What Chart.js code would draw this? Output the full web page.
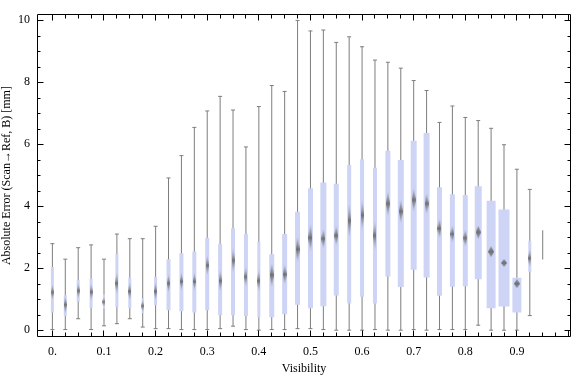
<!DOCTYPE html>
<html>
<head>
<meta charset="utf-8">
<script src="https://cdn.jsdelivr.net/npm/chart.js@4"></script>
<style>
  html, body { margin: 0; padding: 0; background: #fff; }
</style>
</head>
<body>
<canvas id="box-chart-area" width="576" height="377"></canvas>
<script>
// bin centres (visibility)
var visibility = [0, 0.025, 0.05, 0.075, 0.1, 0.125, 0.15, 0.175, 0.2, 0.225,
  0.25, 0.275, 0.3, 0.325, 0.35, 0.375, 0.4, 0.425, 0.45, 0.475,
  0.5, 0.525, 0.55, 0.575, 0.6, 0.625, 0.65, 0.675, 0.7, 0.725,
  0.75, 0.775, 0.8, 0.825, 0.85, 0.875, 0.9, 0.925, 0.95];
var whiskerLow = [0.02, 0.02, 0.37, 0.02, 0.14, 0.21, 0.37, 0.10, 0.05, 0.05,
  0.02, 0.02, 0.02, 0.05, 0.13, 0.02, 0.00, 0.02, 0.02, 0.05,
  0.05, 0.02, 0.00, 0.00, 0.00, 0.02, 0.00, 0.00, 0.02, 0.00,
  0.02, 0.02, 0.02, 0.16, 0.00, 0.00, 0.00, 0.47, 2.28];
var quart1 = [0.57, 0.46, 0.92, 0.72, 0.70, 0.75, 0.71, 0.55, 0.80, 0.64,
  0.61, 0.57, 0.64, 0.48, 0.48, 0.46, 0.42, 0.42, 0.51, 0.82,
  0.71, 0.77, 1.12, 0.86, 1.08, 0.86, 1.73, 1.39, 1.95, 1.70,
  1.11, 1.40, 1.42, 1.64, 0.71, 0.76, 0.57, 1.88, null];
var medians = [1.22, 0.82, 1.27, 1.23, 0.91, 1.51, 1.25, 0.78, 1.25, 1.51,
  1.57, 1.57, 2.09, 1.59, 2.25, 1.72, 1.59, 1.78, 1.80, 2.61,
  2.98, 2.95, 3.05, 3.53, 3.71, 3.05, 4.08, 3.83, 4.20, 4.08,
  3.28, 3.10, 2.97, 3.16, 2.53, 2.17, 1.50, 2.32, null];
var quart3 = [2.04, 1.13, 1.62, 1.66, 1.15, 2.46, 1.69, 1.03, 1.72, 2.29,
  2.48, 2.54, 2.98, 2.79, 3.29, 3.10, 2.85, 2.45, 3.10, 3.82,
  4.58, 4.76, 4.72, 5.33, 5.51, 5.24, 5.79, 5.49, 6.11, 6.36,
  4.61, 4.38, 4.36, 4.64, 4.17, 3.89, 1.69, 2.88, null];
var whiskerHigh = [2.79, 2.29, 2.66, 2.75, 2.29, 3.10, 2.95, 2.95, 3.35, 4.91,
  5.63, 6.54, 7.07, 7.54, 7.10, 5.91, 7.21, 7.89, 7.70, 9.99,
  9.65, 9.68, 9.28, 9.46, 9.14, 8.71, 8.64, 8.45, 8.05, 7.73,
  6.70, 7.23, 6.86, 6.76, 6.51, 5.98, 5.19, 4.54, 3.22];
// half height of the median marker (confidence of the median)
var medianSpread = [0.26, 0.29, 0.26, 0.29, 0.18, 0.37, 0.31, 0.21, 0.31, 0.31,
  0.31, 0.31, 0.34, 0.37, 0.42, 0.34, 0.37, 0.42, 0.34, 0.44,
  0.47, 0.34, 0.34, 0.60, 0.52, 0.50, 0.42, 0.40, 0.40, 0.35,
  0.34, 0.29, 0.29, 0.21, 0.18, 0.13, 0.15, 0.31, null];
var xTickValues = [0, 0.1, 0.2, 0.3, 0.4, 0.5, 0.6, 0.7, 0.8, 0.9];
var yTickValues = [0, 2, 4, 6, 8, 10];

// box widths in px (style)
var boxWidths = [3, 3, 3, 3, 2, 3, 3, 2, 3, 4,
  4, 4, 4, 4, 4, 4, 3, 5, 5, 5,
  5, 6, 5, 4, 4, 4, 5, 6, 6, 6,
  5, 5, 5, 7, 9, 11, 9, 3, 0];

var boxColor = '#cdd4f5';
var whiskerColor = '#7d7d7d';
var serif = '"Liberation Serif", "DejaVu Serif", serif';

document.addEventListener('DOMContentLoaded', function() {
  boxChart();
});

function boxChart() {
  var datasets = [];

  // median markers
  var medianPts = [];
  for (var i = 0; i < visibility.length; i++) {
    if (medians[i] !== null) medianPts.push({x: visibility[i], y: medians[i], i: i});
  }
  datasets.push({
    type: 'scatter',
    order: 0,
    data: medianPts,
    pointStyle: function(ctx) {
      var p = ctx.raw;
      if (!p || p.i === undefined) return 'circle';
      var ys = ctx.chart.scales.y;
      var h = NaN;
      if (ys) h = Math.abs(ys.getPixelForValue(0) - ys.getPixelForValue(medianSpread[p.i])) * 2;
      if (!isFinite(h) || h <= 0) h = medianSpread[p.i] * 31.9 * 2;
      var w = Math.min(6, Math.max(3, boxWidths[p.i] * 0.7));
      return diamond(Math.round(w), Math.max(4, Math.round(h)), boxWidths[p.i] >= 7);
    },
    pointRadius: 3,
    showLine: false
  });

  // boxes, one dataset per width
  var widths = [];
  boxWidths.forEach(function(w) { if (w > 0 && widths.indexOf(w) < 0) widths.push(w); });
  widths.forEach(function(w) {
    var pts = [];
    for (var i = 0; i < visibility.length; i++) {
      if (boxWidths[i] === w && quart1[i] !== null) pts.push({x: visibility[i], y: [quart1[i], quart3[i]]});
    }
    datasets.push({
      type: 'bar',
      order: 1,
      data: pts,
      backgroundColor: boxColor,
      borderWidth: 0,
      inflateAmount: 0,
      barThickness: w,
      maxBarThickness: w,
      grouped: false
    });
  });

  // whiskers
  var whiskerPts = [];
  var capPts = [];
  for (var i = 0; i < visibility.length; i++) {
    whiskerPts.push({x: visibility[i], y: [whiskerLow[i], whiskerHigh[i]]});
    if (quart1[i] !== null) {
      capPts.push({x: visibility[i], y: whiskerLow[i]});
      capPts.push({x: visibility[i], y: whiskerHigh[i]});
    }
  }
  datasets.push({
    type: 'bar',
    order: 2,
    data: whiskerPts,
    backgroundColor: whiskerColor,
    borderWidth: 0,
    inflateAmount: 0,
    barThickness: 1,
    maxBarThickness: 1,
    grouped: false
  });
  datasets.push({
    type: 'scatter',
    order: 2,
    data: capPts,
    pointStyle: 'line',
    pointRadius: 2,
    borderColor: whiskerColor,
    borderWidth: 1,
    showLine: false
  });

  var ctx = document.getElementById('box-chart-area').getContext('2d');
  window.myBox = new Chart(ctx, {
    type: 'bar',
    data: { datasets: datasets },
    plugins: [frameTicks],
    options: {
      responsive: false,
      animation: false,
      layout: { padding: { top: 4, right: 1, left: 0, bottom: 0 } },
      plugins: { legend: { display: false }, tooltip: { enabled: false } },
      scales: {
        x: {
          type: 'linear',
          position: 'bottom',
          offset: false,
          min: -0.029808,
          max: 1.004808,
          grid: { display: false, drawTicks: false },
          border: { display: false },
          afterBuildTicks: function(scale) {
            scale.ticks = xTickValues.map(function(v) { return {value: v}; });
          },
          afterFit: function(scale) { scale.height = 40; },
          ticks: {
            padding: 8,
            color: '#000',
            maxRotation: 0,
            font: { family: serif, size: 12 },
            callback: function(v) { return v === 0 ? '0.' : v.toFixed(1); }
          },
          title: {
            display: true,
            text: 'Visibility',
            color: '#000',
            padding: { top: 0, bottom: 1 },
            font: { family: serif, size: 12 }
          }
        },
        y: {
          type: 'linear',
          min: -0.22,
          max: 10.19,
          grid: { display: false, drawTicks: false },
          border: { display: false },
          afterBuildTicks: function(scale) {
            scale.ticks = yTickValues.map(function(v) { return {value: v}; });
          },
          afterFit: function(scale) { scale.width = 37; },
          ticks: {
            padding: 7,
            color: '#000',
            font: { family: serif, size: 12 }
          },
          title: {
            display: true,
            text: 'Absolute Error (Scan\u2192Ref, B) [mm]',
            color: '#000',
            padding: { top: 0, bottom: 0 },
            font: { family: serif, size: 12 }
          }
        }
      }
    }
  });
}

var diamondCache = {};
function diamond(w, h, solid) {
  var key = w + 'x' + h + (solid ? 's' : '');
  if (diamondCache[key]) return diamondCache[key];
  var c = document.createElement('canvas');
  c.width = w;
  c.height = h;
  var g = c.getContext('2d');
  var grad = g.createLinearGradient(0, 0, 0, h);
  var edge = solid ? 'rgba(110,110,110,0.55)' : 'rgba(120,120,120,0.05)';
  grad.addColorStop(0, edge);
  grad.addColorStop(0.5, 'rgba(105,105,105,0.95)');
  grad.addColorStop(1, edge);
  g.fillStyle = grad;
  g.beginPath();
  g.moveTo(w / 2, 0);
  g.lineTo(w, h / 2);
  g.lineTo(w / 2, h);
  g.lineTo(0, h / 2);
  g.closePath();
  g.fill();
  diamondCache[key] = c;
  return c;
}

// frame with inward ticks on all four sides
var frameTicks = {
  id: 'frameTicks',
  afterDraw: function(chart) {
    var a = chart.chartArea;
    var xs = chart.scales.x, ys = chart.scales.y;
    var c = chart.ctx;
    c.save();
    c.strokeStyle = '#000';
    c.lineWidth = 1;
    c.beginPath();
    var L = Math.round(a.left) + 0.5, R = Math.round(a.right) - 0.5;
    var T = Math.round(a.top) + 0.5, B = Math.round(a.bottom) - 0.5;
    c.rect(L, T, R - L, B - T);
    var k, v, p, len;
    for (k = 0; k <= 40; k++) {
      v = k * 0.025;
      p = Math.floor(xs.getPixelForValue(v)) + 0.5;
      if (p < L || p > R) continue;
      len = (k % 4 === 0) ? 6 : 4;
      c.moveTo(p, B); c.lineTo(p, B - len);
      c.moveTo(p, T); c.lineTo(p, T + len);
    }
    for (k = 0; k <= 20; k++) {
      v = k * 0.5;
      p = Math.round(ys.getPixelForValue(v)) + 0.5;
      len = (k % 4 === 0) ? 6 : 3;
      c.moveTo(L, p); c.lineTo(L + len, p);
      c.moveTo(R, p); c.lineTo(R - len, p);
    }
    c.stroke();
    c.restore();
  }
};
</script>
</body>
</html>
